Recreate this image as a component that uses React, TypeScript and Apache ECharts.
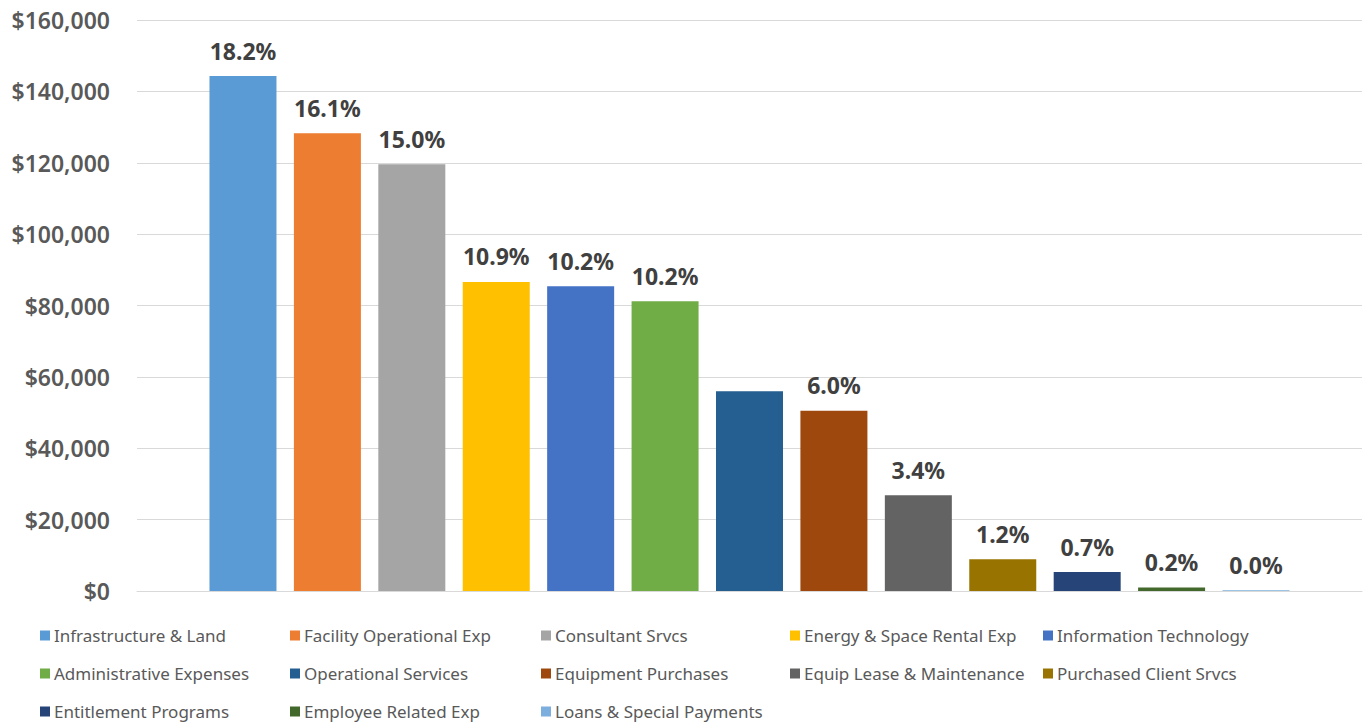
import React, { useEffect, useRef } from "react";
import * as echarts from "echarts";

const seriesNames = [
  "Infrastructure & Land",
  "Facility Operational Exp",
  "Consultant Srvcs",
  "Energy & Space Rental Exp",
  "Information Technology",
  "Administrative Expenses",
  "Operational Services",
  "Equipment Purchases",
  "Equip Lease & Maintenance",
  "Purchased Client Srvcs",
  "Entitlement Programs",
  "Employee Related Exp",
  "Loans & Special Payments",
];

const values = [144300, 128300, 119600, 86600, 85400, 81200, 56000, 50500, 26800, 8900, 5300, 1000, 200];

const pctLabels = ["18.2%", "16.1%", "15.0%", "10.9%", "10.2%", "10.2%", "", "6.0%", "3.4%", "1.2%", "0.7%", "0.2%", "0.0%"];

const colors = [
  "#5B9BD5",
  "#ED7D31",
  "#A5A5A5",
  "#FFC000",
  "#4472C4",
  "#70AD47",
  "#255E91",
  "#9E480E",
  "#636363",
  "#997300",
  "#264478",
  "#43682B",
  "#7CAFDD",
];

const yMin = 0;
const yMax = 160000;
const yStep = 20000;

const legendColumns = [40, 290, 541, 790, 1043];
const FONT = "'Noto Sans', sans-serif";

export default function App() {
  const ref = useRef<HTMLDivElement>(null);
  useEffect(() => {
    if (!ref.current) return;
    const chart = echarts.init(ref.current, null, { renderer: "svg" });
    chart.setOption({
      animation: false,
      color: colors,
      textStyle: { fontFamily: FONT },
      grid: { left: 137, right: 5, top: 20, bottom: 133, containLabel: false },
      xAxis: {
        type: "category",
        data: [""],
        axisTick: { show: false },
        axisLabel: { show: false },
        axisLine: { lineStyle: { color: "#d9d9d9", width: 1 } },
      },
      yAxis: {
        type: "value",
        min: yMin,
        max: yMax,
        interval: yStep,
        axisLine: { show: false },
        axisTick: { show: false },
        splitLine: { lineStyle: { color: "#d9d9d9", width: 1 } },
        axisLabel: {
          margin: 27,
          fontSize: 23,
          fontWeight: 600,
          color: "#595959",
          fontFamily: FONT,
          formatter: (v: number) => "$" + v.toLocaleString("en-US"),
        },
      },
      legend: seriesNames.map((name, i) => ({
        data: [name],
        left: legendColumns[i % 5],
        top: 627 + Math.floor(i / 5) * 38,
        orient: "horizontal",
        padding: 0,
        itemWidth: 10,
        itemHeight: 10,
        icon: "rect",
        selectedMode: false,
        textStyle: { fontSize: 17, color: "#595959", fontFamily: FONT, padding: [0, 0, 0, -1] },
      })),
      series: seriesNames.map((name, i) => ({
        name,
        type: "bar",
        data: [values[i]],
        barWidth: 67,
        barGap: "26%",
        itemStyle: { color: colors[i] },
        label: {
          show: pctLabels[i] !== "",
          position: "top",
          distance: 14,
          formatter: () => pctLabels[i],
          fontSize: 23,
          fontWeight: "bold",
          color: "#404040",
          fontFamily: FONT,
        },
      })),
    });
    return () => chart.dispose();
  }, []);
  return (
    <div
      ref={ref}
      style={{ position: "absolute", left: 0, top: 0, width: 1367, height: 724, background: "#fff" }}
    />
  );
}
